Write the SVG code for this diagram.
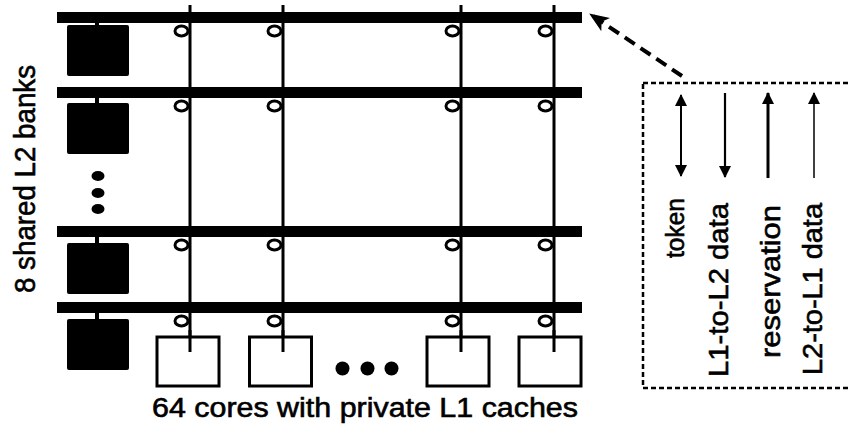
<svg xmlns="http://www.w3.org/2000/svg" width="851" height="426" viewBox="0 0 851 426">
<defs>
<marker id="head" viewBox="0 0 12 16" refX="11" refY="8" markerWidth="13" markerHeight="16" markerUnits="userSpaceOnUse" orient="auto-start-reverse">
<path d="M0,2 L12,8 L0,14 Z" fill="#000"/>
</marker>
<marker id="bighead" viewBox="0 0 20 16" refX="19" refY="8" markerWidth="20" markerHeight="16" markerUnits="userSpaceOnUse" orient="auto">
<path d="M0,0 L20,8 L0,16 L5,8 Z" fill="#000"/>
</marker>
</defs>
<style>
.bus{stroke:#000;stroke-width:11;fill:none}
.vl{stroke:#000;stroke-width:3;fill:none}
.stub{stroke:#000;stroke-width:4;fill:none}
.sw{fill:#fff;stroke:#000;stroke-width:3}
.bank{fill:#000}
.core{fill:#fff;stroke:#000;stroke-width:3}
.dot{fill:#000}
.t{font-family:"Liberation Sans",Arial,Helvetica,sans-serif;fill:#000;stroke:#000;stroke-width:0.6}
.lg{stroke:#000;fill:none}
</style>
<rect width="851" height="426" fill="#fff"/>

<g id="connectors">
<line class="vl" x1="190" y1="5" x2="190" y2="352"/>
<line class="vl" x1="283" y1="5" x2="283" y2="352"/>
<line class="vl" x1="461" y1="5" x2="461" y2="352"/>
<line class="vl" x1="554" y1="5" x2="554" y2="352"/>
<line class="bus" x1="57" y1="17.5" x2="582" y2="17.5"/>
<line class="bus" x1="57" y1="92.5" x2="582" y2="92.5"/>
<line class="bus" x1="57" y1="231.5" x2="582" y2="231.5"/>
<line class="bus" x1="57" y1="307.5" x2="582" y2="307.5"/>
<line class="stub" x1="97" y1="22" x2="97" y2="27"/>
<line class="stub" x1="97" y1="97" x2="97" y2="105"/>
<line class="stub" x1="97" y1="236" x2="97" y2="245"/>
<line class="stub" x1="97" y1="312" x2="97" y2="321"/>
<g id="switches">
<ellipse class="sw" cx="181.5" cy="31" rx="6.5" ry="5"/>
<ellipse class="sw" cx="274.5" cy="31" rx="6.5" ry="5"/>
<ellipse class="sw" cx="452.5" cy="31" rx="6.5" ry="5"/>
<ellipse class="sw" cx="545.5" cy="31" rx="6.5" ry="5"/>
<ellipse class="sw" cx="181.5" cy="106" rx="6.5" ry="5"/>
<ellipse class="sw" cx="274.5" cy="106" rx="6.5" ry="5"/>
<ellipse class="sw" cx="452.5" cy="106" rx="6.5" ry="5"/>
<ellipse class="sw" cx="545.5" cy="106" rx="6.5" ry="5"/>
<ellipse class="sw" cx="181.5" cy="245" rx="6.5" ry="5"/>
<ellipse class="sw" cx="274.5" cy="245" rx="6.5" ry="5"/>
<ellipse class="sw" cx="452.5" cy="245" rx="6.5" ry="5"/>
<ellipse class="sw" cx="545.5" cy="245" rx="6.5" ry="5"/>
<ellipse class="sw" cx="181.5" cy="321" rx="6.5" ry="5"/>
<ellipse class="sw" cx="274.5" cy="321" rx="6.5" ry="5"/>
<ellipse class="sw" cx="452.5" cy="321" rx="6.5" ry="5"/>
<ellipse class="sw" cx="545.5" cy="321" rx="6.5" ry="5"/>
</g>
<line x1="682" y1="76" x2="590" y2="14" stroke="#000" stroke-width="4" stroke-dasharray="12,7" marker-end="url(#bighead)"/>
</g>

<g id="bank1"><rect class="bank" x="67" y="25" width="62" height="51" rx="2"/></g>
<g id="bank2"><rect class="bank" x="67" y="103" width="62" height="51" rx="2"/></g>
<g id="bank3"><rect class="bank" x="67" y="243" width="62" height="51" rx="2"/></g>
<g id="bank4"><rect class="bank" x="67" y="319" width="62" height="51" rx="2"/></g>
<g id="bank-dots">
<ellipse class="dot" cx="98" cy="176" rx="6.5" ry="5"/>
<ellipse class="dot" cx="98" cy="193" rx="6.5" ry="5"/>
<ellipse class="dot" cx="98" cy="209" rx="6.5" ry="5"/>
</g>

<g id="core1"><rect class="core" x="157" y="337" width="62" height="49"/></g>
<g id="core2"><rect class="core" x="249.5" y="337" width="62" height="49"/></g>
<g id="core3"><rect class="core" x="427" y="337" width="62" height="49"/></g>
<g id="core4"><rect class="core" x="519" y="337" width="62" height="49"/></g>
<g id="connectors-into-cores">
<line class="vl" x1="190" y1="330" x2="190" y2="352"/>
<line class="vl" x1="283" y1="330" x2="283" y2="352"/>
<line class="vl" x1="461" y1="330" x2="461" y2="352"/>
<line class="vl" x1="554" y1="330" x2="554" y2="352"/>
</g>
<g id="core-dots">
<circle class="dot" cx="342.5" cy="368.5" r="7"/>
<circle class="dot" cx="367.5" cy="368.5" r="7"/>
<circle class="dot" cx="391.5" cy="368.5" r="7"/>
</g>

<g id="labels">
<text class="t" transform="translate(35,293) rotate(-90)" font-size="30" textLength="228" lengthAdjust="spacingAndGlyphs">8 shared L2 banks</text>
<text class="t" x="152" y="417" font-size="27" textLength="426" lengthAdjust="spacingAndGlyphs">64 cores with private L1 caches</text>
</g>

<g id="legend">
<rect x="643" y="83" width="230" height="305" fill="none" stroke="#000" stroke-width="2.5" stroke-dasharray="5,3"/>
<line class="lg" x1="681" y1="95" x2="681" y2="176" stroke-width="2" marker-start="url(#head)" marker-end="url(#head)"/>
<line class="lg" x1="725" y1="93" x2="725" y2="177" stroke-width="2.2" marker-end="url(#head)"/>
<line class="lg" x1="768" y1="178" x2="768" y2="93" stroke-width="3" marker-end="url(#head)"/>
<line class="lg" x1="814" y1="178" x2="814" y2="93" stroke-width="1.5" marker-end="url(#head)"/>
<text class="t" transform="translate(684,258) rotate(-90)" font-size="26" textLength="60" lengthAdjust="spacingAndGlyphs">token</text>
<text class="t" transform="translate(728,377) rotate(-90)" font-size="28" textLength="174" lengthAdjust="spacingAndGlyphs">L1-to-L2 data</text>
<text class="t" transform="translate(780,358) rotate(-90)" font-size="28" textLength="153" lengthAdjust="spacingAndGlyphs">reservation</text>
<text class="t" transform="translate(822,375) rotate(-90)" font-size="28" textLength="172" lengthAdjust="spacingAndGlyphs">L2-to-L1 data</text>
</g>
</svg>
